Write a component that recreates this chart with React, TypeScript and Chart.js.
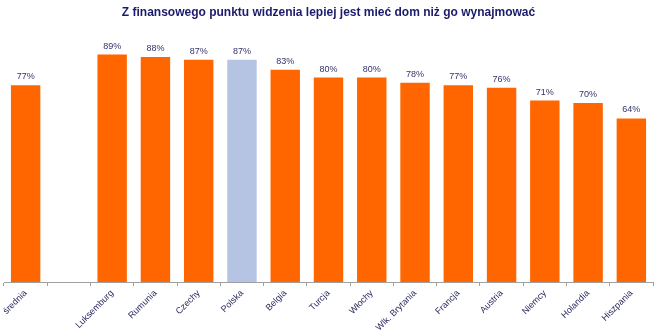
import React, { useEffect, useRef } from "react";
import { Chart, registerables } from "chart.js";

Chart.register(...registerables);

const title = "Z finansowego punktu widzenia lepiej jest mieć dom niż go wynajmować";
const categories = [
  "średnia", "", "Luksemburg", "Rumunia", "Czechy", "Polska", "Belgia", "Turcja",
  "Włochy", "Wlk. Brytania", "Francja", "Austria", "Niemcy", "Holandia", "Hiszpania",
];
const values: (number | null)[] = [77, null, 89, 88, 87, 87, 83, 80, 80, 78, 77, 76, 71, 70, 64];
const highlight = "Polska";

const ORANGE = "#ff6600";
const BLUE = "#b4c4e2";
const NAVY = "#1b1b6b";
const FONT = "Arial, 'Liberation Sans', sans-serif";

const valueLabels = {
  id: "valueLabels",
  afterDatasetsDraw(chart: any) {
    const ctx = chart.ctx;
    const meta = chart.getDatasetMeta(0);
    ctx.save();
    ctx.font = `9px ${FONT}`;
    ctx.fillStyle = "#33336a";
    ctx.textAlign = "center";
    ctx.textBaseline = "bottom";
    meta.data.forEach((bar: any, i: number) => {
      const v = values[i];
      if (v == null) return;
      ctx.fillText(`${v}%`, bar.x, bar.y - 4);
    });
    ctx.restore();
  },
};

export default function App() {
  const ref = useRef<HTMLCanvasElement>(null);
  useEffect(() => {
    const chart = new Chart(ref.current!, {
      type: "bar",
      data: {
        labels: categories,
        datasets: [
          {
            data: values,
            backgroundColor: categories.map((c) => (c === highlight ? BLUE : ORANGE)),
            barPercentage: 0.68,
            categoryPercentage: 1,
          },
        ],
      },
      options: {
        animation: false,
        responsive: false,
        layout: { padding: { left: 4, right: 2, top: 0, bottom: 0 } },
        plugins: {
          legend: { display: false },
          tooltip: { enabled: false },
          title: {
            display: true,
            text: title,
            color: NAVY,
            font: { family: FONT, size: 12, weight: "bold" },
            padding: { top: 5, bottom: 7 },
          },
        },
        scales: {
          x: {
            offset: true,
            grid: { display: true, drawOnChartArea: false, drawTicks: true, tickLength: 4, color: "#a0a0a0", offset: true },
            border: { display: true, color: "#a0a0a0" },
            ticks: {
              autoSkip: false,
              maxRotation: 45,
              minRotation: 45,
              color: "#2a2a60",
              font: { family: FONT, size: 9 },
              padding: 2,
            },
            afterFit(scale: any) {
              scale.height = 49;
              scale.paddingLeft = 0;
              scale.paddingRight = 0;
            },
          },
          y: {
            display: false,
            min: 0,
            max: 100,
          },
        },
      },
      plugins: [valueLabels],
    });
    return () => chart.destroy();
  }, []);
  return (
    <div style={{ position: "fixed", left: 0, top: 0, width: 655, height: 331, background: "#fff" }}>
      <canvas ref={ref} width={655} height={331} />
    </div>
  );
}
